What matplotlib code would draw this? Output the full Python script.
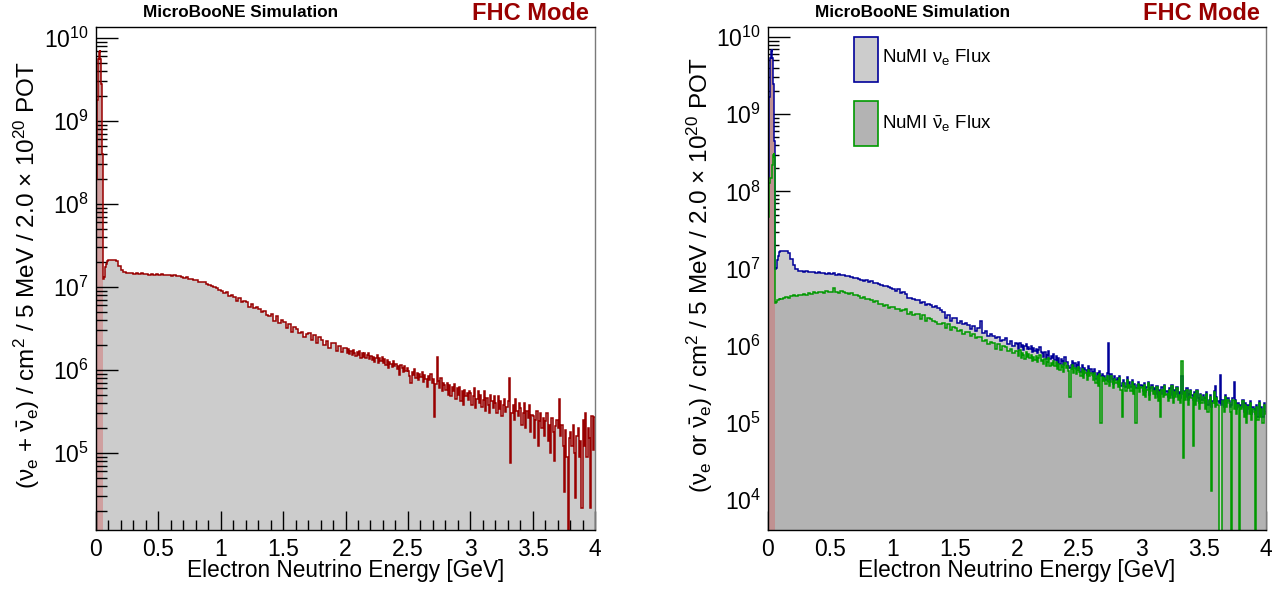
import numpy as np
import matplotlib
matplotlib.use("Agg")
import matplotlib.pyplot as plt
from matplotlib.ticker import (FixedLocator, LogLocator, MultipleLocator,
                               LogFormatterMathtext, NullFormatter)
from matplotlib.patches import Rectangle

plt.rcParams['font.family'] = ['Liberation Sans', 'DejaVu Sans']
plt.rcParams['mathtext.fontset'] = 'custom'
plt.rcParams['mathtext.rm'] = 'Liberation Sans'
plt.rcParams['mathtext.it'] = 'Liberation Sans'
plt.rcParams['mathtext.bf'] = 'Liberation Sans:bold'

# bin edges [GeV]: 5 MeV bins to 0.1 GeV, 20 MeV bins to 2 GeV, 10 MeV bins to 4 GeV
peak_edges = np.linspace(0.0, 0.1, 21)
mid_edges = np.linspace(0.12, 2.0, 95)
high_edges = np.linspace(2.01, 4.0, 200)
edges = np.concatenate([peak_edges, mid_edges, high_edges])
N_LOW = 12  # bins below the 60 MeV threshold (shaded band)

# flux per 5 MeV, in units of 1e6 / cm2 / 2e20 POT
# ---- left panel: nue + nuebar ----
total_peak = [200, 600, 1800, 3500, 5500, 6800, 7200, 5500, 2800, 1000,
              400, 80, 12.5, 13.0, 15.0, 17.5, 19.0, 20.0, 20.6, 21.0]
total_mid = [
    21.0, 21.3, 21.2, 20.5, 18.0,
    15.8, 15.0, 14.8, 14.9, 14.6,
    14.4, 14.7, 14.3, 14.5, 14.2,
    14.4, 14.1, 14.3, 14.0, 14.4,
    14.0, 14.2, 13.8, 14.1, 13.9,
    13.6, 13.9, 13.4, 13.5, 13.0,
    12.9, 13.1, 12.6, 12.4, 12.2,
    12.0, 11.6, 11.3, 11.4, 10.9,
    10.5, 10.2, 10.0, 9.8, 9.2,
    9.0, 8.4, 8.7, 7.8, 7.9,
    7.6, 6.8, 7.3, 6.5, 6.7,
    6.5, 5.8, 6.3, 5.5, 5.7,
    5.4, 5.0, 5.1, 4.6, 4.5,
    4.7, 3.9, 4.4, 3.7, 4.0,
    3.8, 3.2, 3.6, 2.9, 3.3,
    3.1, 2.8, 2.9, 2.5, 2.7,
    2.8, 2.3, 2.6, 2.1, 2.5,
    2.3, 2.0, 2.2, 1.85, 2.1,
    2.1, 1.7, 1.95, 1.65, 1.85,
]
total_high = [
    1.85, 1.62, 1.78, 1.55, 1.70, 1.52, 1.75, 1.60, 1.48, 1.66,
    1.52, 1.68, 1.40, 1.58, 1.45, 1.60, 1.38, 1.50, 1.62, 1.36,
    1.48, 1.30, 1.45, 1.25, 1.40, 1.52, 1.22, 1.38, 1.28, 1.42,
    1.20, 1.35, 1.15, 1.30, 1.05, 1.25, 1.18, 1.08, 1.28, 1.12,
    1.18, 1.02, 1.10, 0.88, 1.15, 1.05, 0.95, 1.12, 0.98, 1.06,
    0.98, 0.85, 0.70, 0.95, 0.88, 1.02, 0.80, 0.92, 0.75, 0.90,
    0.82, 0.95, 0.72, 0.88, 0.78, 0.62, 0.85, 0.76, 0.90, 0.70,
    0.78, 0.27, 0.68, 1.45, 0.74, 0.60, 0.80, 0.55, 0.70, 0.66,
    0.58, 0.70, 0.50, 0.65, 0.48, 0.62, 0.55, 0.68, 0.45, 0.60,
    0.50, 0.62, 0.42, 0.55, 0.38, 0.58, 0.48, 0.52, 0.44, 0.56,
    0.52, 0.38, 0.48, 0.60, 0.35, 0.45, 0.55, 0.40, 0.50, 0.36,
    0.44, 0.55, 0.32, 0.46, 0.38, 0.30, 0.50, 0.42, 0.35, 0.48,
    0.40, 0.30, 0.48, 0.34, 0.42, 0.28, 0.38, 0.45, 0.31, 0.36,
    0.42, 0.80, 0.076, 0.30, 0.38, 0.25, 0.45, 0.32, 0.28, 0.40,
    0.35, 0.22, 0.30, 0.40, 0.20, 0.32, 0.26, 0.38, 0.18, 0.29,
    0.28, 0.15, 0.25, 0.32, 0.12, 0.24, 0.30, 0.20, 0.26, 0.16,
    0.24, 0.30, 0.14, 0.22, 0.10, 0.26, 0.18, 0.08, 0.21, 0.25,
    0.20, 0.45, 0.16, 0.22, 0.12, 0.034, 0.19, 0.09, 0.0, 0.15,
    0.18, 0.12, 0.22, 0.10, 0.029, 0.16, 0.20, 0.09, 0.14, 0.022,
    0.25, 0.12, 0.30, 0.09, 0.20, 0.15, 0.022, 0.28, 0.11, 0.27,
]

# ---- right panel: nue ----
nue_peak = [150, 520, 1650, 3300, 5300, 6600, 6900, 5300, 2500, 700,
            450, 300, 10.0, 10.2, 11.5, 13.0, 14.5, 15.5, 16.2, 16.6]
nue_mid = [
    16.8, 16.9, 16.8, 16.0, 13.5,
    11.0, 9.8, 9.4, 9.3, 9.1,
    9.2, 9.0, 8.9, 9.1, 8.8,
    8.9, 8.7, 8.8, 8.6, 8.7,
    8.5, 8.7, 8.3, 8.4, 8.2,
    8.3, 8.0, 7.9, 7.8, 7.6,
    7.6, 7.3, 7.2, 7.0, 7.1,
    6.8, 6.9, 6.5, 6.6, 6.3,
    6.2, 6.0, 5.9, 5.7, 5.6,
    5.5, 5.1, 5.4, 4.8, 5.0,
    4.7, 4.2, 4.2, 4.0, 3.9,
    3.9, 3.6, 3.7, 3.4, 3.5,
    3.4, 3.2, 3.3, 3.1, 2.9,
    2.7, 2.3, 2.5, 2.1, 2.3,
    2.3, 2.0, 2.1, 1.9, 1.95,
    1.85, 1.65, 1.8, 1.55, 1.7,
    2.1, 1.45, 1.55, 1.35, 1.4,
    1.35, 1.25, 1.3, 1.15, 1.2,
    1.25, 1.05, 1.15, 1.0, 1.1,
]
nue_high = [
    1.05, 0.92, 1.10, 0.95, 1.02, 0.88, 0.98, 1.06, 0.90, 0.96,
    0.90, 0.98, 0.84, 0.94, 0.86, 0.92, 0.80, 0.88, 0.95, 0.82,
    0.80, 0.72, 0.84, 0.68, 0.76, 0.85, 0.67, 0.74, 0.70, 0.78,
    0.66, 0.74, 0.60, 0.70, 0.58, 0.68, 0.64, 0.56, 0.72, 0.61,
    0.62, 0.55, 0.52, 0.57, 0.64, 0.53, 0.60, 0.50, 0.56, 0.61,
    0.52, 0.46, 0.56, 0.43, 0.52, 0.49, 0.42, 0.54, 0.46, 0.50,
    0.46, 0.40, 0.50, 0.37, 0.44, 0.36, 0.47, 0.40, 0.43, 0.39,
    0.41, 0.36, 0.44, 1.07, 0.34, 0.43, 0.37, 0.32, 0.40, 0.36,
    0.38, 0.32, 0.41, 0.30, 0.33, 0.36, 0.33, 0.29, 0.39, 0.31,
    0.34, 0.29, 0.36, 0.27, 0.32, 0.28, 0.31, 0.34, 0.28, 0.31,
    0.30, 0.26, 0.33, 0.25, 0.29, 0.34, 0.23, 0.28, 0.31, 0.26,
    0.28, 0.24, 0.30, 0.22, 0.27, 0.24, 0.29, 0.24, 0.31, 0.25,
    0.26, 0.22, 0.28, 0.23, 0.31, 0.21, 0.27, 0.24, 0.29, 0.22,
    0.25, 0.21, 0.40, 0.24, 0.26, 0.22, 0.28, 0.20, 0.24, 0.27,
    0.23, 0.20, 0.25, 0.19, 0.27, 0.21, 0.18, 0.24, 0.20, 0.23,
    0.21, 0.18, 0.25, 0.17, 0.20, 0.23, 0.16, 0.19, 0.26, 0.30,
    0.22, 0.19, 0.18, 0.42, 0.17, 0.20, 0.16, 0.23, 0.18, 0.21,
    0.19, 0.16, 0.17, 0.21, 0.34, 0.20, 0.15, 0.18, 0.16, 0.17,
    0.16, 0.20, 0.14, 0.18, 0.13, 0.17, 0.15, 0.19, 0.13, 0.16,
    0.15, 0.13, 0.17, 0.12, 0.19, 0.14, 0.16, 0.12, 0.18, 0.14,
]

# ---- right panel: nuebar ----
nuebar_peak = [46, 80, 130, 150, 150, 150, 160, 220, 300, 310,
               280, 150, 3.6, 3.7, 3.8, 3.9, 3.9, 4.0, 4.0, 4.1]
nuebar_mid = [
    4.0, 4.2, 4.3, 4.2, 4.4,
    4.5, 4.4, 4.6, 4.5, 4.7,
    4.6, 4.8, 4.7, 4.9, 4.8,
    4.9, 5.0, 4.8, 5.1, 5.0,
    4.9, 5.6, 5.0, 4.8, 5.1,
    4.9, 4.8, 4.7, 4.8, 4.5,
    4.5, 4.4, 4.2, 4.3, 4.0,
    4.0, 3.9, 3.7, 3.8, 3.5,
    3.5, 3.3, 3.4, 3.1, 3.2,
    3.2, 3.0, 3.0, 2.8, 2.9,
    3.0, 2.6, 2.7, 2.5, 2.6,
    2.6, 2.2, 2.5, 2.1, 2.3,
    2.2, 2.1, 2.05, 1.9, 1.9,
    2.0, 1.7, 1.9, 1.6, 1.75,
    1.7, 1.55, 1.6, 1.4, 1.5,
    1.5, 1.35, 1.4, 1.25, 1.3,
    1.3, 1.15, 1.2, 1.05, 1.12,
    1.1, 0.9, 1.05, 0.88, 1.0,
    0.95, 0.85, 0.9, 0.8, 0.85,
]
nuebar_high = [
    0.85, 0.74, 0.88, 0.70, 0.80, 0.76, 0.68, 0.82, 0.72, 0.78,
    0.70, 0.77, 0.64, 0.72, 0.66, 0.74, 0.62, 0.69, 0.75, 0.63,
    0.65, 0.58, 0.68, 0.55, 0.62, 0.70, 0.54, 0.60, 0.57, 0.64,
    0.55, 0.62, 0.50, 0.58, 0.48, 0.57, 0.53, 0.46, 0.60, 0.51,
    0.54, 0.47, 0.22, 0.50, 0.56, 0.45, 0.52, 0.43, 0.49, 0.53,
    0.46, 0.40, 0.50, 0.38, 0.47, 0.44, 0.36, 0.48, 0.41, 0.45,
    0.42, 0.36, 0.45, 0.33, 0.40, 0.30, 0.43, 0.10, 0.39, 0.35,
    0.38, 0.32, 0.41, 0.35, 0.30, 0.40, 0.34, 0.28, 0.37, 0.33,
    0.35, 0.29, 0.38, 0.27, 0.12, 0.33, 0.30, 0.26, 0.36, 0.28,
    0.31, 0.26, 0.34, 0.24, 0.30, 0.10, 0.28, 0.32, 0.25, 0.29,
    0.28, 0.23, 0.31, 0.22, 0.27, 0.33, 0.20, 0.26, 0.29, 0.24,
    0.26, 0.21, 0.29, 0.19, 0.25, 0.12, 0.27, 0.22, 0.30, 0.23,
    0.24, 0.19, 0.27, 0.21, 0.30, 0.18, 0.25, 0.22, 0.28, 0.20,
    0.23, 0.18, 0.63, 0.035, 0.25, 0.20, 0.27, 0.17, 0.22, 0.26,
    0.21, 0.05, 0.24, 0.17, 0.26, 0.19, 0.15, 0.23, 0.18, 0.22,
    0.20, 0.15, 0.24, 0.14, 0.19, 0.22, 0.013, 0.18, 0.25, 0.16,
    0.21, 0.17, 0.0, 0.0, 0.0, 0.19, 0.14, 0.22, 0.16, 0.20,
    0.18, 0.14, 0.0, 0.20, 0.15, 0.19, 0.13, 0.17, 0.0, 0.16,
    0.15, 0.19, 0.12, 0.17, 0.10, 0.16, 0.13, 0.18, 0.11, 0.15,
    0.14, 0.0, 0.16, 0.11, 0.18, 0.12, 0.15, 0.10, 0.17, 0.13,
]

SCALE = 1e6
FLOOR = 1.0  # empty bins are drawn down to this (below the axis range)

total = np.maximum(np.array(total_peak + total_mid + total_high) * SCALE, FLOOR)
nue = np.maximum(np.array(nue_peak + nue_mid + nue_high) * SCALE, FLOOR)
nuebar = np.maximum(np.array(nuebar_peak + nuebar_mid + nuebar_high) * SCALE, FLOOR)

RED = '#990000'
BLUE = '#000099'
GREEN = '#009900'
LIGHT = '#cccccc'
DARK = '#b3b3b3'
TICK_SIZE = 16.5
LABEL_SIZE = 17.5

fig = plt.figure(figsize=(12.84, 5.89), dpi=100)
ax1 = fig.add_axes([96 / 1284, 59 / 589, 499 / 1284, 503 / 589])
ax2 = fig.add_axes([768 / 1284, 59 / 589, 498 / 1284, 503 / 589])


def style_axes(ax, ymin, decades):
    ax.set_yscale('log')
    ax.set_xlim(0, 4)
    ax.set_ylim(ymin, 1.35e10)
    ax.xaxis.set_major_locator(FixedLocator(np.arange(0, 4.01, 0.5)))
    ax.xaxis.set_minor_locator(MultipleLocator(0.1))
    ax.xaxis.set_major_formatter(plt.FuncFormatter(lambda v, p: f'{v:g}'))
    ax.yaxis.set_major_locator(FixedLocator(decades))
    ax.yaxis.set_minor_locator(LogLocator(base=10, subs=np.arange(2, 10), numticks=100))
    ax.yaxis.set_major_formatter(LogFormatterMathtext())
    ax.yaxis.set_minor_formatter(NullFormatter())
    ax.tick_params(which='both', direction='in', top=False, right=False,
                   labelsize=TICK_SIZE, width=1, color='black')
    ax.tick_params(axis='y', which='major', length=16, pad=5)
    ax.tick_params(axis='y', which='minor', length=8)
    ax.tick_params(axis='x', which='major', length=14, pad=6)
    ax.tick_params(axis='x', which='minor', length=7)
    for side in ['left', 'bottom', 'top']:
        ax.spines[side].set_color('black')
        ax.spines[side].set_linewidth(1)
    ax.spines['right'].set_color('#7a7a7a')
    ax.spines['right'].set_linewidth(1)
    ax.set_xlabel('Electron Neutrino Energy [GeV]', fontsize=16.3)
    ax.xaxis.label.set_va('center')
    ax.xaxis.set_label_coords(0.5, -0.0815)


# left panel
style_axes(ax1, 1.18e4, [1e5, 1e6, 1e7, 1e8, 1e9, 1e10])
ax1.stairs(total, edges, baseline=FLOOR, fill=True, color=LIGHT, zorder=1)
ax1.stairs(total[:N_LOW], edges[:N_LOW + 1], baseline=FLOOR, fill=True,
           color='#cf9f9f', zorder=1.1)
ax1.stairs(total, edges, baseline=None, color=RED, lw=1.1, zorder=2)
ax1.set_ylabel(r'$(\nu_{e}$ + $\bar{\nu}_{e})$ / cm$^{2}$ / 5 MeV / 2.0 $\times$ 10$^{20}$ POT',
               fontsize=LABEL_SIZE)
ax1.yaxis.label.set_va('center')
ax1.yaxis.set_label_coords(-0.138, 0.507)

# right panel
style_axes(ax2, 4.1e3, [1e4, 1e5, 1e6, 1e7, 1e8, 1e9, 1e10])
ax2.set_axisbelow(True)
ax2.stairs(nue, edges, baseline=FLOOR, fill=True, color=LIGHT, zorder=1)
ax2.stairs(nuebar, edges, baseline=FLOOR, fill=True, color=DARK, zorder=1.05)
ax2.stairs(nue[:N_LOW], edges[:N_LOW + 1], baseline=FLOOR, fill=True,
           color='#c09191', zorder=1.1)
ax2.stairs(nue, edges, baseline=None, color=BLUE, lw=1.1, zorder=2)
ax2.stairs(nuebar, edges, baseline=None, color=GREEN, lw=1.1, zorder=2.1)
ax2.set_ylabel(r'$(\nu_{e}$ or $\bar{\nu}_{e})$ / cm$^{2}$ / 5 MeV / 2.0 $\times$ 10$^{20}$ POT',
               fontsize=LABEL_SIZE)
ax2.yaxis.label.set_va('center')
ax2.yaxis.set_label_coords(-0.1365, 0.507)

# legend
legend_items = [(r'NuMI $\nu_{e}$ Flux', LIGHT, BLUE, 0.8907, 0.9404),
                (r'NuMI $\bar{\nu}_{e}$ Flux', DARK, GREEN, 0.7634, 0.8072)]
for label, face, edge, y0, yt in legend_items:
    ax2.add_patch(Rectangle((0.1717, y0), 0.0492, 0.0895, transform=ax2.transAxes,
                            facecolor=face, edgecolor=edge, lw=1.2, zorder=5))
    ax2.text(0.229, yt, label, transform=ax2.transAxes, fontsize=13.5,
             ha='left', va='center', zorder=5)

# headers
for ax in (ax1, ax2):
    ax.text(0.29, 1.0 + 15 / 503, 'MicroBooNE Simulation', transform=ax.transAxes,
            fontsize=12.3, fontweight='bold', ha='center', va='center')
    ax.text(0.988, 1.0 + 14 / 503, 'FHC Mode', transform=ax.transAxes,
            fontsize=17, fontweight='bold', color=RED, ha='right', va='center')

fig.savefig('out.png', dpi=100)
